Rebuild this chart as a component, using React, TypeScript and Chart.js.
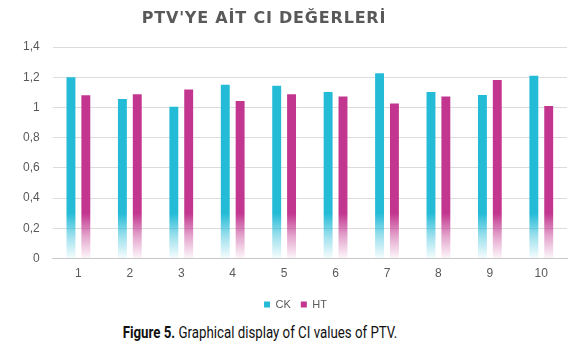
import React, { useEffect, useRef } from "react";
import { Chart, registerables } from "chart.js";

Chart.register(...registerables);

const categories = ["1", "2", "3", "4", "5", "6", "7", "8", "9", "10"];
const ckValues = [1.2, 1.056, 1.005, 1.15, 1.143, 1.103, 1.226, 1.103, 1.083, 1.21];
const htValues = [1.081, 1.088, 1.119, 1.043, 1.088, 1.072, 1.027, 1.072, 1.181, 1.009];
const yTickLabels = ["0", "0,2", "0,4", "0,6", "0,8", "1", "1,2", "1,4"];
const seriesNames = ["CK", "HT"];
const titleText = "PTV'YE AİT CI DEĞERLERİ";
const captionBold = "Figure 5.";
const captionRest = " Graphical display of CI values of PTV.";

const CK_RGB = "36,187,215";
const HT_RGB = "194,54,143";

function makeFill(rgb: string) {
  return (ctx: any) => {
    const chart = ctx.chart;
    const area = chart.chartArea;
    if (!area) return `rgb(${rgb})`;
    const yScale = chart.scales.y;
    const y0 = yScale.getPixelForValue(0);
    const yTop = yScale.getPixelForValue(0.3);
    const g = chart.ctx.createLinearGradient(0, y0, 0, yTop);
    g.addColorStop(0, `rgba(${rgb},0.04)`);
    g.addColorStop(0.5, `rgba(${rgb},0.45)`);
    g.addColorStop(1, `rgba(${rgb},1)`);
    return g;
  };
}

const legendShift = {
  id: "legendShift",
  afterLayout(chart: any) {
    if (chart.legend) {
      chart.legend.left += 7;
      chart.legend.right += 7;
    }
  },
};

export default function App() {
  const canvasRef = useRef<HTMLCanvasElement | null>(null);

  useEffect(() => {
    if (!canvasRef.current) return;
    const chart = new Chart(canvasRef.current, {
      type: "bar",
      data: {
        labels: categories,
        datasets: [
          {
            label: seriesNames[0],
            data: ckValues,
            backgroundColor: makeFill(CK_RGB),
            barPercentage: 0.6,
            categoryPercentage: 0.578,
          },
          {
            label: seriesNames[1],
            data: htValues,
            backgroundColor: makeFill(HT_RGB),
            barPercentage: 0.6,
            categoryPercentage: 0.578,
          },
        ],
      },
      plugins: [legendShift],
      options: {
        animation: false,
        responsive: false,
        maintainAspectRatio: false,
        layout: { padding: { top: 47, right: 16, left: 10, bottom: 0 } },
        plugins: {
          title: { display: false },
          legend: {
            position: "bottom",
            labels: {
              boxWidth: 6,
              boxHeight: 6,
              padding: 10,
              color: "#595959",
              font: { family: "'Liberation Sans', Arial, sans-serif", size: 11 },
              generateLabels: (c: any) => {
                const base = Chart.defaults.plugins.legend.labels.generateLabels(c);
                const cols = [CK_RGB, HT_RGB];
                return base.map((l: any, i: number) => ({
                  ...l,
                  fillStyle: `rgb(${cols[i]})`,
                  strokeStyle: `rgb(${cols[i]})`,
                  lineWidth: 0,
                }));
              },
            },
          },
          tooltip: { enabled: false },
        },
        scales: {
          x: {
            grid: { display: false, drawTicks: false },
            border: { display: true, color: "#c8c8c8" },
            ticks: {
              color: "#595959",
              padding: 8,
              font: { family: "'Liberation Sans', Arial, sans-serif", size: 12 },
            },
          },
          y: {
            min: 0,
            max: 1.4,
            grid: { color: "#dcdcdc", drawTicks: false },
            border: { display: false },
            ticks: {
              stepSize: 0.2,
              padding: 13,
              color: "#595959",
              font: { family: "'Liberation Sans', Arial, sans-serif", size: 12 },
              callback: (_v: any, i: number) => yTickLabels[i],
            },
          },
        },
      },
    });
    return () => chart.destroy();
  }, []);

  return (
    <div style={{ position: "absolute", left: 0, top: 0, width: 583, height: 352, background: "#fff" }}>
      <canvas ref={canvasRef} width={583} height={320} style={{ display: "block", width: 583, height: 320 }} />
      <div
        style={{
          position: "absolute",
          top: 8,
          left: 4,
          width: 520,
          textAlign: "center",
          fontFamily: "'DejaVu Sans', sans-serif",
          fontWeight: "bold",
          fontSize: 16,
          letterSpacing: "0.8px",
          color: "#595959",
          lineHeight: "20px",
          whiteSpace: "nowrap",
        }}
      >
        {titleText}
      </div>
      <div
        style={{
          position: "absolute",
          top: 323,
          left: 0,
          width: 520,
          textAlign: "center",
          fontFamily: "'Roboto', sans-serif",
          fontSize: 16,
          color: "#111",
          lineHeight: "20px",
          transform: "scaleX(0.83)",
          transformOrigin: "260px 50%",
        }}
      >
        <b>{captionBold}</b>
        {captionRest}
      </div>
    </div>
  );
}
